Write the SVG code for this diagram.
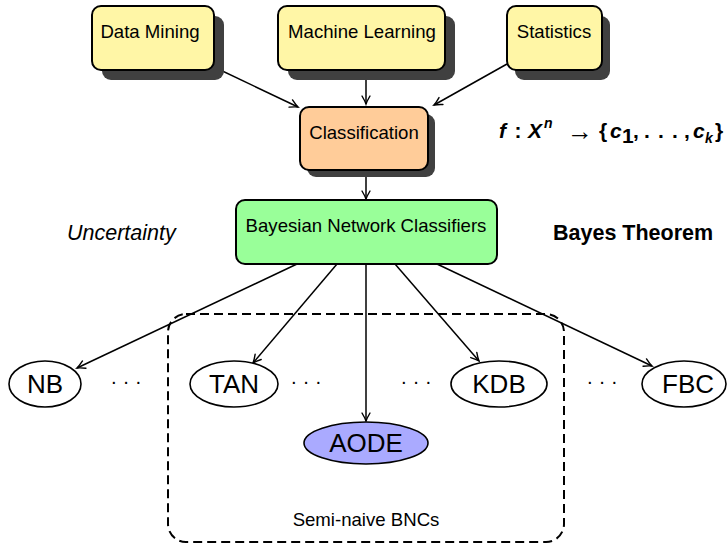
<svg xmlns="http://www.w3.org/2000/svg" width="727" height="544" viewBox="0 0 727 544">
  <defs>
    <marker id="arrow" markerUnits="userSpaceOnUse" markerWidth="14" markerHeight="12" viewBox="-10 -6 12 12" refX="0" refY="0" orient="auto">
      <path d="M -8 -4 Q -3 -1 0 0 Q -3 1 -8 4" fill="none" stroke="#000" stroke-width="1.4" stroke-linecap="round"/>
    </marker>
  </defs>
  <style>
    text { font-family: "Liberation Sans", Arial, Helvetica, sans-serif; fill: #000; }
    .box { stroke: #000; stroke-width: 2; }
    .shadow { fill: #404040; }
    .topbox { fill: #fff6a6; }
    .cls { fill: #ffcc99; }
    .bnc { fill: #99ff99; }
    .ell { fill: #fff; stroke: #000; stroke-width: 1.6; }
    .aode { fill: #aaaaff; stroke: #000; stroke-width: 1.6; }
    .lbl { font-size: 18.6px; text-anchor: middle; }
    .big { font-size: 26px; text-anchor: middle; }
    .dots { font-size: 20px; text-anchor: middle; }
    .edge { fill: none; stroke: #000; stroke-width: 1.5; marker-end: url(#arrow); }
    .group { fill: none; stroke: #000; stroke-width: 2; stroke-dasharray: 9 5; }
    .m { font-size: 21px; font-weight: bold; font-style: italic; }
    .mu { font-size: 21px; font-weight: bold; }
    .ms { font-size: 14px; font-weight: bold; font-style: italic; }
  </style>

  <!-- dashed frame around the semi-naive family -->
  <rect class="group" x="168" y="314" width="396" height="228" rx="18"/>

  <!-- connectors -->
  <g id="connectors">
    <path class="edge" d="M214 67 L298 107"/>
    <path class="edge" d="M366 70 L366 104"/>
    <path class="edge" d="M507 64 L434 105"/>
    <path class="edge" d="M366 170 L366 199"/>
    <path class="edge" d="M297 264 L77 368"/>
    <path class="edge" d="M337 264 L253 363"/>
    <path class="edge" d="M366 264 L366 421"/>
    <path class="edge" d="M395 264 L479 361"/>
    <path class="edge" d="M437 264 L652 366"/>
  </g>

  <!-- source disciplines -->
  <g id="data-mining">
    <rect class="shadow" x="102" y="16" width="122" height="64" rx="9"/>
    <rect class="box topbox" x="92" y="6" width="122" height="64" rx="9"/>
    <text class="lbl" x="150" y="38">Data Mining</text>
  </g>
  <g id="machine-learning">
    <rect class="shadow" x="288" y="16" width="167" height="64" rx="9"/>
    <rect class="box topbox" x="278" y="6" width="167" height="64" rx="9"/>
    <text class="lbl" x="362" y="38">Machine Learning</text>
  </g>
  <g id="statistics">
    <rect class="shadow" x="515" y="16" width="95" height="64" rx="9"/>
    <rect class="box topbox" x="507" y="6" width="95" height="64" rx="9"/>
    <text class="lbl" x="554" y="38">Statistics</text>
  </g>

  <g id="classification">
    <rect class="shadow" x="307" y="114" width="128" height="63" rx="9"/>
    <rect class="box cls" x="300" y="107" width="128" height="63" rx="9"/>
    <text class="lbl" x="364" y="139">Classification</text>
  </g>

  <g id="bnc">
    <rect class="box bnc" x="236" y="200" width="261" height="64" rx="9"/>
    <text class="lbl" x="366" y="232">Bayesian Network Classifiers</text>
  </g>

  <!-- side annotations -->
  <text x="67" y="240" font-size="21.5" font-style="italic">Uncertainty</text>
  <text x="553" y="240" font-size="21.5" font-weight="bold">Bayes Theorem</text>

  <g id="formula">
    <text class="m" x="499" y="138">f</text>
    <text class="mu" x="518" y="138" text-anchor="middle">:</text>
    <text class="m" x="528" y="138">X</text>
    <text class="ms" x="544" y="128">n</text>
    <text x="580" y="140" font-family="DejaVu Sans, sans-serif" font-size="26" text-anchor="middle">→</text>
    <text class="mu" x="603" y="138" text-anchor="middle">{</text>
    <text class="m" x="610" y="138">c</text>
    <text class="mu" x="622" y="143" font-size="14">1</text>
    <text class="mu" x="636" y="138" text-anchor="middle">,</text>
    <text class="mu" x="647" y="138" text-anchor="middle">.</text>
    <text class="mu" x="661" y="138" text-anchor="middle">.</text>
    <text class="mu" x="675" y="138" text-anchor="middle">.</text>
    <text class="mu" x="687" y="138" text-anchor="middle">,</text>
    <text class="m" x="693" y="138">c</text>
    <text class="ms" x="705" y="143">k</text>
    <text class="mu" x="719" y="138" text-anchor="middle">}</text>
  </g>

  <!-- classifier leaves -->
  <g id="nb">
    <ellipse class="ell" cx="45" cy="384" rx="36" ry="23"/>
    <text class="big" x="45" y="393">NB</text>
  </g>
  <g id="tan">
    <ellipse class="ell" cx="234" cy="384" rx="44" ry="23"/>
    <text class="big" x="234" y="393">TAN</text>
  </g>
  <g id="aode">
    <ellipse class="aode" cx="366" cy="443" rx="62" ry="21"/>
    <text class="big" x="366" y="452">AODE</text>
  </g>
  <g id="kdb">
    <ellipse class="ell" cx="499" cy="384" rx="48" ry="23"/>
    <text class="big" x="499" y="393">KDB</text>
  </g>
  <g id="fbc">
    <ellipse class="ell" cx="684" cy="384" rx="42" ry="23"/>
    <text class="big" x="688" y="393">FBC</text>
  </g>

  <!-- ellipsis marks between leaves -->
  <text class="dots" x="126" y="388">· · ·</text>
  <text class="dots" x="306" y="388">· · ·</text>
  <text class="dots" x="416" y="388">· · ·</text>
  <text class="dots" x="602" y="388">· · ·</text>

  <text class="lbl" x="366" y="526">Semi-naive BNCs</text>
</svg>
